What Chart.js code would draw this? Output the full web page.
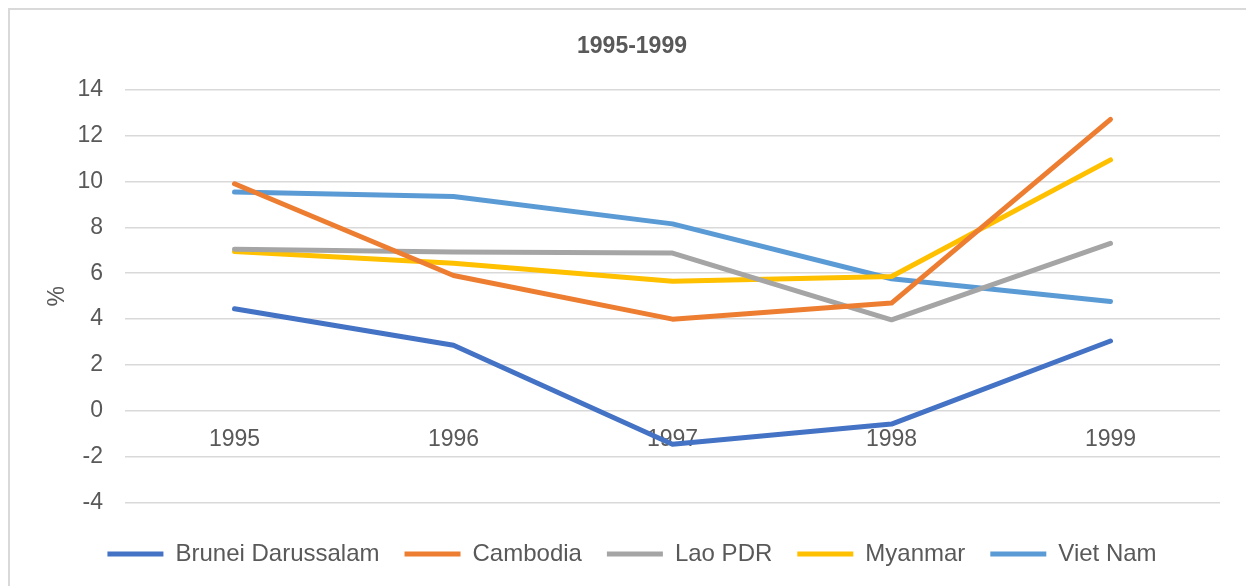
<!DOCTYPE html>
<html>
<head>
<meta charset="utf-8">
<script src="https://cdn.jsdelivr.net/npm/chart.js@4"></script>
<style>
  html, body { margin: 0; padding: 0; background: #fff; overflow: hidden; width: 1246px; height: 586px; }
  #frame { position: absolute; left: 8px; top: 8px; width: 1300px; height: 700px; border-left: 2px solid #d9d9d9; border-top: 2px solid #d9d9d9; }
  #wrap { position: absolute; left: 0; top: 0; width: 1246px; height: 576px; }
</style>
</head>
<body>
<div id="frame"></div>
<div id="wrap"><canvas id="c"></canvas></div>
<script>
const categories = ['1995', '1996', '1997', '1998', '1999'];
const seriesNames = ['Brunei Darussalam', 'Cambodia', 'Lao PDR', 'Myanmar', 'Viet Nam'];
const brunei   = [4.45, 2.86, -1.45, -0.57, 3.05];
const cambodia = [9.9, 5.9, 4.0, 4.7, 12.7];
const lao      = [7.05, 6.93, 6.88, 3.97, 7.3];
const myanmar  = [6.95, 6.44, 5.65, 5.86, 10.94];
const vietnam  = [9.54, 9.34, 8.15, 5.76, 4.77];
const colors = ['#4472C4', '#ED7D31', '#A5A5A5', '#FFC000', '#5B9BD5'];
const yTicks = [-4, -2, 0, 2, 4, 6, 8, 10, 12, 14];

const values = [brunei, cambodia, lao, myanmar, vietnam];
const textColor = '#595959';
const FONT = "'Liberation Sans', Arial, sans-serif";

new Chart(document.getElementById('c'), {
  type: 'line',
  data: {
    labels: categories,
    datasets: seriesNames.map((n, i) => ({
      label: n,
      data: values[i],
      borderColor: colors[i],
      backgroundColor: colors[i],
      borderWidth: 5,
      pointRadius: 0,
      pointHoverRadius: 0,
      tension: 0,
      borderCapStyle: 'round',
      borderJoinStyle: 'round',
      pointStyle: 'line',
      fill: false
    }))
  },
  options: {
    responsive: true,
    maintainAspectRatio: false,
    animation: false,
    devicePixelRatio: 1,
    layout: { padding: { left: 44, right: 26, top: 0, bottom: 0 } },
    plugins: {
      title: {
        display: true,
        text: '1995-1999',
        color: textColor,
        font: { family: FONT, size: 23, weight: 'bold' },
        padding: { top: 33, bottom: 29 }
      },
      legend: {
        position: 'bottom',
        title: { display: true, text: '', font: { size: 1 }, padding: { top: 6.5, bottom: 6.5 } },
        labels: {
          usePointStyle: true,
          pointStyle: 'line',
          pointStyleWidth: 56,
          boxWidth: 56,
          padding: 25,
          color: textColor,
          font: { family: FONT, size: 24 }
        }
      },
      tooltip: { enabled: false }
    },
    scales: {
      x: {
        type: 'category',
        offset: true,
        position: { y: 0 },
        grid: { display: false, drawTicks: false },
        border: { display: false },
        ticks: { color: textColor, font: { family: FONT, size: 23 }, padding: 15, maxRotation: 0 }
      },
      y: {
        min: -4,
        max: 14,
        afterBuildTicks: (scale) => { scale.ticks = yTicks.map(v => ({ value: v })); },
        afterFit: (scale) => { scale.width = 81; },
        grid: { color: '#d9d9d9', lineWidth: 1.5, drawTicks: false },
        border: { display: false },
        ticks: { color: textColor, font: { family: FONT, size: 23 }, padding: 22 },
        title: { display: true, text: '%', color: textColor, font: { family: FONT, size: 23 }, padding: { top: 0, bottom: 0 } }
      }
    }
  }
});
</script>
</body>
</html>
